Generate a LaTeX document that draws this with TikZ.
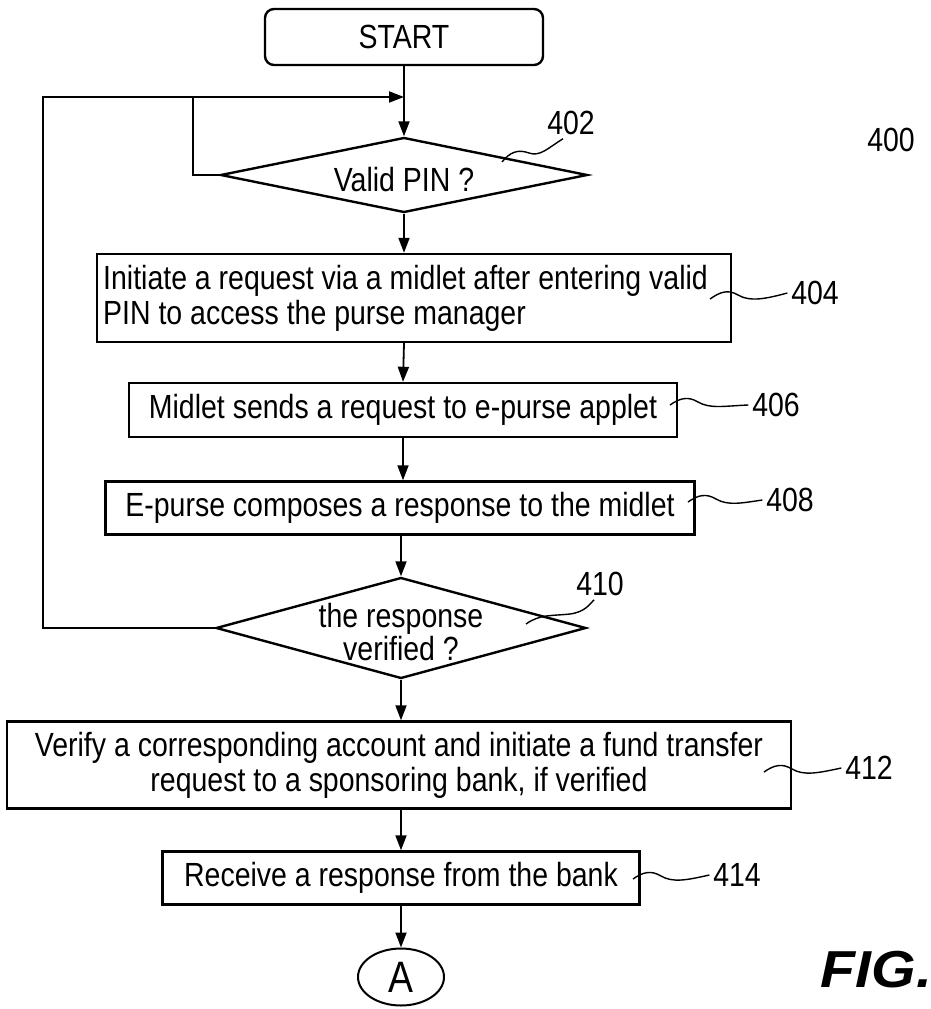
\documentclass[tikz,border=0pt]{standalone}
\usepackage{fontspec}
\setmainfont{Liberation Sans}[FakeStretch=0.85]
\newfontfamily\figfont{Liberation Sans}[FakeStretch=1.1]
\usetikzlibrary{shapes.geometric,arrows.meta}

\begin{document}
\begin{tikzpicture}[x=1pt,y=-1pt,line width=1.8pt,
  font=\fontsize{33.5}{35}\selectfont,
  box/.style={draw,rectangle,line width=2.4pt,inner sep=0pt},
  decide/.style={draw,diamond,line width=2.4pt,inner sep=0pt,align=center},
  arr/.style={-{Triangle[length=15pt,width=11pt]}},
  lead/.style={line width=1.4pt},
  lbl/.style={inner sep=3pt}]
\useasboundingbox (0,0) rectangle (931,1009);

\node[box,rounded corners=9pt,minimum width=278pt,minimum height=56pt] (start) at (404,37) {START};
\node[decide,shape aspect=4.9,minimum width=367pt,minimum height=75pt,text height=34pt] (d402) at (404,175) {Valid PIN ?};
\node[box,anchor=west,text width=622pt,inner xsep=6pt,minimum height=88pt,align=flush left] (b404) at (96,298) {Initiate a request via a midlet after entering valid\\PIN to access the purse manager};
\node[box,minimum width=548pt,minimum height=54pt] (b406) at (403,410) {Midlet sends a request to e-purse applet};
\node[box,minimum width=589pt,minimum height=53pt] (b408) at (400,508) {E-purse composes a response to the midlet};
\node[draw,diamond,line width=2.4pt,shape aspect=3.66,minimum width=370pt,minimum height=101pt] (d410) at (401,628) {};
\node[align=center,font=\fontsize{33.5}{33}\selectfont] (t410) at (401,632) {the response\\verified ?};
\node[box,minimum width=784pt,minimum height=87pt,align=center] (b412) at (399,765) {Verify a corresponding account and initiate a fund transfer\\request to a sponsoring bank, if verified};
\node[box,minimum width=477pt,minimum height=53pt] (b414) at (401,878) {Receive a response from the bank};
\node[draw,ellipse,line width=2pt,inner sep=0pt,minimum width=86pt,minimum height=57pt,font=\fontsize{44}{44}\selectfont] (endA) at (401,977) {A};

\node[lbl] (l400) at (891,140) {400};
\node[lbl] (l402) at (571,123) {402};
\node[lbl] (l404) at (815,293) {404};
\node[lbl] (l406) at (776,405) {406};
\node[lbl] (l408) at (790,500) {408};
\node[lbl] (l410) at (600,584) {410};
\node[lbl] (l412) at (869,768) {412};
\node[lbl] (l414) at (737,875) {414};
\node[anchor=east,inner sep=0pt,font=\figfont\fontsize{52}{52}\selectfont\bfseries\itshape] (fig) at (933,970) {FIG.};

\coordinate (outer) at (43,97);
\coordinate (inner) at (193,97);

\draw[arr] (start.south) -- (d402.north);
\draw[arr] (d402.south) -- (d402.south |- b404.north);
\draw[arr] (d402.south |- b404.south) -- (b406.north);
\draw[arr] (b406.south) -- (b406.south |- b408.north);
\draw[arr] (b408.south -| d410.north) -- (d410.north);
\draw[arr] (d410.south) -- (d410.south |- b412.north);
\draw[arr] (b412.south -| b414.north) -- (b414.north);
\draw[arr] (b414.south) -- (endA.north);

\draw[arr] (d410.west) -| (outer) -- (start.south |- outer);
\draw (d402.west) -| (inner);

\draw[lead] (502,162) .. controls (510,152) and (518,149) .. (529,153) .. controls (540,157) and (548,148) .. ([xshift=-8pt]l402.south);
\draw[lead] (710,299) .. controls (720,292) and (728,289) .. (738,295) .. controls (750,302) and (765,299) .. (l404.west);
\draw[lead] (670,405) .. controls (680,398) and (688,396) .. (698,402) .. controls (710,409) and (724,406) .. (l406.west);
\draw[lead] (688,502) .. controls (698,495) and (706,493) .. (716,499) .. controls (728,506) and (742,503) .. (l408.west);
\draw[lead] ([xshift=-6pt]l410.south) .. controls (590,604) and (585,612) .. (570,614) .. controls (552,616) and (540,614) .. (526,624);
\draw[lead] (764,772) .. controls (774,765) and (782,763) .. (792,769) .. controls (804,776) and (818,773) .. (l412.west);
\draw[lead] (633,879) .. controls (643,872) and (651,870) .. (661,876) .. controls (673,883) and (687,880) .. (l414.west);
\end{tikzpicture}
\end{document}
